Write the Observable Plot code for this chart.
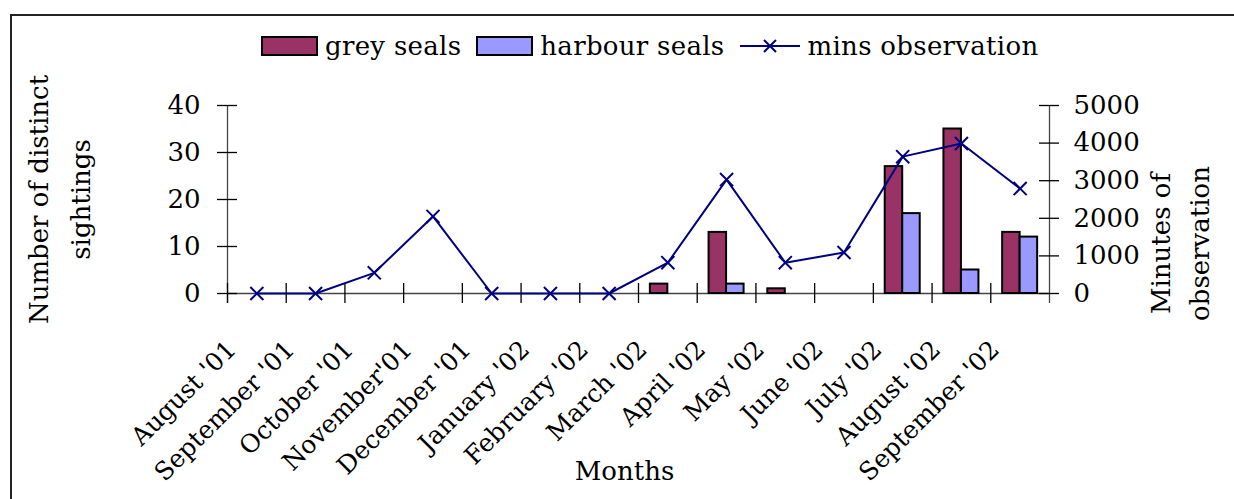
<!DOCTYPE html>
<html>
<head>
<meta charset="utf-8">
<script src="https://cdn.jsdelivr.net/npm/d3@7"></script>
<script src="https://cdn.jsdelivr.net/npm/@observablehq/plot@0.6"></script>
<style>
  html, body { margin: 0; padding: 0; background: #fff; }
  #wrap { position: relative; width: 1234px; height: 499px; overflow: hidden; font-family: "DejaVu Serif", serif; }
  #frame { position: absolute; left: 10px; top: 14px; width: 1400px; height: 700px; border-left: 2px solid #222; border-top: 2px solid #222; box-sizing: border-box; }
  #legend { position: absolute; top: 31px; left: 261px; display: flex; align-items: center; font-size: 26px; letter-spacing: 0.3px; color: #000; white-space: nowrap; }
  #legend .sw { width: 57px; height: 20px; border: 2px solid #000; box-sizing: border-box; margin-right: 7px; }
  #legend .lab { margin-right: 15px; }
  #legend svg { margin-right: 8px; }
  #chart { position: absolute; left: 0; top: 0; }
</style>
</head>
<body>
<div id="wrap">
  <div id="frame"></div>
  <div id="chart"></div>
  <div id="legend"></div>
</div>
<script>
// ---- data ----
const months = ["August '01", "September '01", "October '01", "November'01", "December '01", "January '02", "February '02", "March '02", "April '02", "May '02", "June '02", "July '02", "August '02", "September '02"];
const greySeals    = [0, 0, 0, 0, 0, 0, 0, 2, 13, 1, 0, 27, 35, 13];
const harbourSeals = [0, 0, 0, 0, 0, 0, 0, 0, 2, 0, 0, 17, 5, 12];
const minsObservation = [0, 0, 550, 2050, 0, 0, 0, 820, 3030, 820, 1090, 3640, 3990, 2790];
const leftTicks  = [0, 10, 20, 30, 40];
const rightTicks = [0, 1000, 2000, 3000, 4000, 5000];
const seriesNames = ["grey seals", "harbour seals", "mins observation"];
const xTitle = "Months";
const leftTitle = "Number of distinct\nsightings";
const rightTitle = "Minutes of\nobservation";

// ---- layout ----
const W = 1234, H = 499;
const mL = 227, mR = 185, mT = 105, mB = 206;
const plotW = W - mL - mR, plotH = H - mT - mB;
const bw = plotW / months.length;
const barW = 17.5;
const leftMax = leftTicks[leftTicks.length - 1];
const rightMax = rightTicks[rightTicks.length - 1];
const ratio = rightMax / leftMax;

const GREY = "#993366", HARB = "#9999ff", LINE = "#000080";

const rows = months.map((m, i) => ({month: m, grey: greySeals[i], harbour: harbourSeals[i], mins: minsObservation[i]}));

const chart = Plot.plot({
  width: W, height: H,
  marginLeft: mL, marginRight: mR, marginTop: mT, marginBottom: mB,
  style: {fontFamily: "'DejaVu Serif', serif", fontSize: "26px", color: "#000", background: "transparent", overflow: "visible"},
  x: {type: "band", domain: months, padding: 0, round: false, axis: null},
  y: {domain: [0, leftMax], nice: false},
  marks: [
    // axes lines
    Plot.ruleY([0], {stroke: "#444", strokeWidth: 1.3}),
    Plot.ruleX([months[0]], {dx: -bw / 2, stroke: "#444", strokeWidth: 1.3, insetBottom: -10}),
    Plot.ruleX([months[months.length - 1]], {dx: bw / 2, stroke: "#444", strokeWidth: 1.3, insetBottom: -10}),
    // category boundary ticks
    Plot.ruleX(months, {dx: -bw / 2, stroke: "#000", strokeWidth: 1.3, insetTop: plotH - 10, insetBottom: -10}),
    // left axis ticks crossing
    Plot.ruleY(leftTicks, {stroke: "#000", strokeWidth: 1.3, insetLeft: -10, insetRight: plotW - 10}),
    // right axis ticks crossing
    Plot.ruleY(rightTicks.map(v => v / ratio), {stroke: "#000", strokeWidth: 1.3, insetLeft: plotW - 10, insetRight: -10}),
    Plot.axisY(leftTicks, {anchor: "left", tickSize: 0, tickPadding: 27, label: null, fontSize: 26}),
    Plot.axisY(rightTicks.map(v => v / ratio), {anchor: "right", tickSize: 0, tickPadding: 24, label: null, fontSize: 26, tickFormat: d => String(Math.round(d * ratio))}),
    // bars
    Plot.barY(rows.filter(d => d.grey > 0), {x: "month", y: "grey", fill: GREY, stroke: "#000", strokeWidth: 2, insetLeft: bw / 2 - barW, insetRight: bw / 2}),
    Plot.barY(rows.filter(d => d.harbour > 0), {x: "month", y: "harbour", fill: HARB, stroke: "#000", strokeWidth: 2, insetLeft: bw / 2, insetRight: bw / 2 - barW}),
    // line
    Plot.line(rows, {x: "month", y: d => d.mins / ratio, stroke: LINE, strokeWidth: 2}),
    Plot.dot(rows, {x: "month", y: d => d.mins / ratio, symbol: "times", r: 6, stroke: LINE, strokeWidth: 2}),
    // x tick labels
    Plot.text(months, {x: d => d, frameAnchor: "bottom", text: d => d, rotate: -45, textAnchor: "end", lineAnchor: "top", dx: -32, dy: 45, fontSize: 25}),
    // titles
    Plot.text([xTitle], {frameAnchor: "bottom", text: d => d, textAnchor: "middle", lineAnchor: "middle", dx: -14, dy: 178, fontSize: 26}),
    Plot.text([leftTitle], {frameAnchor: "left", text: d => d, textAnchor: "middle", lineAnchor: "middle", rotate: -90, dx: -172, dy: 0, lineHeight: 1.6, fontSize: 26}),
    Plot.text([rightTitle], {frameAnchor: "right", text: d => d, textAnchor: "middle", lineAnchor: "middle", rotate: -90, dx: 128, dy: 44, lineHeight: 1.5, fontSize: 26})
  ]
});
document.getElementById("chart").appendChild(chart);

// ---- legend ----
const legend = document.getElementById("legend");
function addSwatch(color, label) {
  const s = document.createElement("div"); s.className = "sw"; s.style.background = color;
  const t = document.createElement("span"); t.className = "lab"; t.textContent = label;
  legend.appendChild(s); legend.appendChild(t);
}
addSwatch(GREY, seriesNames[0]);
addSwatch(HARB, seriesNames[1]);
const ls = d3.create("svg").attr("width", 60).attr("height", 20);
ls.append("line").attr("x1", 0).attr("x2", 60).attr("y1", 10).attr("y2", 10).attr("stroke", LINE).attr("stroke-width", 2);
ls.append("path").attr("d", "M24,4L36,16M24,16L36,4").attr("stroke", LINE).attr("stroke-width", 2);
legend.appendChild(ls.node());
const t3 = document.createElement("span"); t3.textContent = seriesNames[2];
legend.appendChild(t3);
</script>
</body>
</html>
